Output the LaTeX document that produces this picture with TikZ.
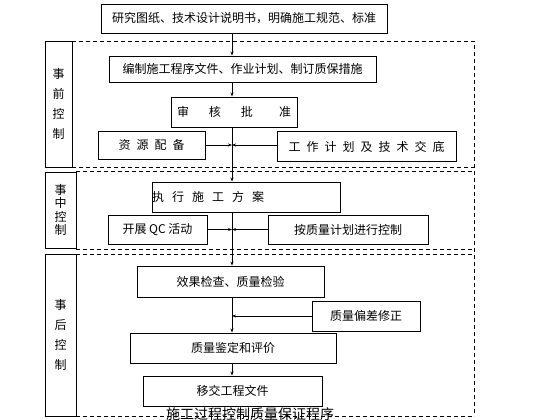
\documentclass[tikz,border=0pt]{standalone}
\usepackage{fontspec}
\setmainfont{Noto Sans CJK SC}
\usetikzlibrary{arrows.meta}
\tikzset{
  box/.style={draw, line width=0.9pt, inner sep=0pt, font=\fontsize{12}{14}\selectfont},
  lbl/.style={draw, line width=0.9pt, inner sep=0pt, align=center},
  flow/.style={line width=0.8pt, -{Stealth[length=4pt,width=3pt]}},
  plain/.style={line width=0.8pt},
  dsh/.style={line width=0.8pt, dash pattern=on 4pt off 3pt},
}
\begin{document}
\begin{tikzpicture}[x=1pt,y=-1pt]
\useasboundingbox (0,0) rectangle (560,420);
\fill[white] (0,0) rectangle (560,420);
\coordinate (spine) at (232,0);
% dashed frames
\coordinate (d1a) at (72,41);   \coordinate (d1b) at (474,41);
\coordinate (d1c) at (72,167);  \coordinate (d1d) at (474,167);
\coordinate (d2a) at (76,171);  \coordinate (d2b) at (474,171);
\coordinate (d2c) at (76,249);  \coordinate (d2d) at (474,249);
\coordinate (d3a) at (76,254);  \coordinate (d3b) at (474,254);
\coordinate (d3c) at (76,416);  \coordinate (d3d) at (474,416);
\draw[dsh] (d1a) -- (d1b) -- (d3d);
\draw[dsh] (d1c) -- (d1d);
\draw[dsh] (d2a) -- (d2b);
\draw[dsh] (d2c) -- (d2d);
\draw[dsh] (d3a) -- (d3b);
\draw[dsh] (d3c) -- (d3d);
% label boxes
\node[lbl, minimum width=27pt, minimum height=126pt, font=\fontsize{12}{20}\selectfont] (L1) at (58.5,104) {事\\前\\控\\制};
\node[lbl, minimum width=31pt, minimum height=76pt, font=\fontsize{12}{13.5}\selectfont] (L2) at (60.5,210) {事\\中\\控\\制};
\node[lbl, minimum width=31pt, minimum height=162pt, font=\fontsize{12}{20}\selectfont] (L3) at (60.5,335) {事\\后\\控\\制};
% boxes
\node[box, minimum width=286pt, minimum height=29pt] (top) at (244,18.5) {研究图纸、技术设计说明书，明确施工规范、标准};
\node[box, minimum width=267pt, minimum height=26pt] (b2) at (242.5,69) {编制施工程序文件、作业计划、制订质保措施};
\node[box, minimum width=126pt, minimum height=30pt] (shen) at (234,112) {审\hspace{20pt}核\hspace{20pt}批\hspace{26pt}准};
\node[box, minimum width=107pt, minimum height=28pt] (zy) at (151.5,145) {资\hspace{6pt}源\hspace{6pt}配\hspace{6pt}备};
\node[box, minimum width=179pt, minimum height=30pt] (gz) at (366.5,146.5) {工\hspace{6pt}作\hspace{6pt}计\hspace{6pt}划\hspace{6pt}及\hspace{6pt}技\hspace{6pt}术\hspace{6pt}交\hspace{6pt}底};
\node[box, minimum width=188pt, minimum height=30pt] (zx) at (246,197) {};
\node[font=\fontsize{12}{14}\selectfont, anchor=west, inner sep=0pt] (zxt) at (152,197) {\hspace{0pt}执\hspace{8pt}行\hspace{8pt}施\hspace{8pt}工\hspace{8pt}方\hspace{8pt}案};
\node[box, minimum width=99pt, minimum height=29pt] (qc) at (157.5,229.5) {开展 QC 活动};
\node[box, minimum width=160pt, minimum height=29pt] (az) at (348,229.5) {按质量计划进行控制};
\node[box, minimum width=187pt, minimum height=31pt] (xg) at (230.5,281.5) {效果检查、质量检验};
\node[box, minimum width=108pt, minimum height=30pt] (pc) at (366,316) {质量偏差修正};
\node[box, minimum width=206pt, minimum height=30pt] (jd) at (233,348) {质量鉴定和评价};
\node[box, minimum width=179pt, minimum height=30pt] (yj) at (232.5,391) {移交工程文件};
\node[font=\fontsize{14}{16}\selectfont, inner sep=0pt] (cap) at (250,414) {施工过程控制质量保证程序};
% main flow
\draw[flow] (top.south -| spine) -- (b2.north -| spine);
\draw[flow] (b2.south -| spine) -- (shen.north -| spine);
\draw[flow] (shen.south -| spine) -- (zx.north -| spine);
\draw[flow] (zx.south -| spine) -- (xg.north -| spine);
\draw[flow] (xg.south -| spine) -- (jd.north -| spine);
\draw[flow] (jd.south -| spine) -- (yj.north -| spine);
% side connectors
\draw[flow] (zy.east) -- (zy.east -| spine);
\draw[flow] (gz.west |- zy.east) -- (zy.east -| spine);
\draw[flow] (qc.east) -- (qc.east -| spine);
\draw[flow] (az.west) -- (az.west -| spine);
\draw[flow] (pc.west) -- (pc.west -| spine);
\end{tikzpicture}
\end{document}
